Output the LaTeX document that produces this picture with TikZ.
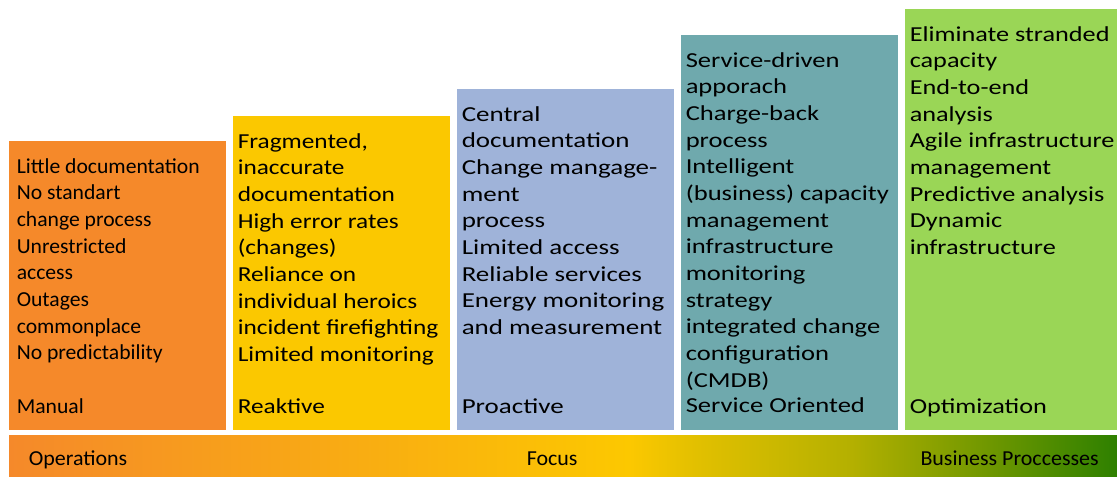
\documentclass[tikz,border=0pt]{standalone}
\usepackage{fontspec}
\setmainfont{Carlito}
\definecolor{manualorange}{RGB}{245,137,42}
\definecolor{reaktivyellow}{RGB}{251,200,0}
\definecolor{proactiveblue}{RGB}{159,179,217}
\definecolor{serviceteal}{RGB}{111,169,173}
\definecolor{optimgreen}{RGB}{154,214,86}
\definecolor{focusyellow}{RGB}{252,200,0}
\definecolor{focusgold}{RGB}{226,192,0}
\definecolor{focusolive}{RGB}{180,176,0}
\definecolor{focusgreen}{RGB}{46,128,0}
\pgfdeclarehorizontalshading{focusbar}{100bp}{color(0bp)=(manualorange); color(25bp)=(manualorange); color(53bp)=(focusyellow); color(56bp)=(focusgold); color(63bp)=(focusolive); color(75bp)=(focusgreen); color(100bp)=(focusgreen)}
\tikzset{
	items/.style={anchor=north west, inner sep=0pt, align=left, font=\fontsize{16}{20}\selectfont\addfontfeatures{FakeStretch=#1}, execute at begin node=\strut},
	items/.default=1,
	stagename/.style={anchor=base west, inner sep=0pt, font=\fontsize{16}{20}\selectfont\addfontfeatures{FakeStretch=#1}},
	stagename/.default=1,
	axisname/.style={inner sep=0pt, font=\fontsize{16}{20}\selectfont\addfontfeatures{FakeStretch=1.03}}
}

\begin{document}
\begin{tikzpicture}[x=0.75pt,y=-0.75pt]
	\useasboundingbox (0,0) rectangle (1117,477);
	\fill [manualorange] (9,141) rectangle (226,430);
	\fill [reaktivyellow] (233,116) rectangle (450,430);
	\fill [proactiveblue] (457,89) rectangle (674,430);
	\fill [serviceteal] (681,35) rectangle (898,430);
	\fill [optimgreen] (905,9) rectangle (1117,430);
	\shade [shading=focusbar] (9,435) rectangle (1117,477);

	\node[items=1.015] (t1) at (16.5,158) {Little documentation\\No standart\\change process\\Unrestricted\\access\\Outages\\commonplace\\No predictability};
	\node[items=1.185] (t2) at (237.5,133) {Fragmented,\\inaccurate\\documentation\\High error rates\\(changes)\\Reliance on\\individual heroics\\incident firefighting\\Limited monitoring};
	\node[items=1.265] (t3) at (461.5,106) {Central\\documentation\\Change mangage-\\ment\\process\\Limited access\\Reliable services\\Energy monitoring\\and measurement};
	\node[items=1.245] (t4) at (685.5,52) {Service-driven\\apporach\\Charge-back\\process\\Intelligent\\(business) capacity\\management\\infrastructure\\monitoring\\strategy\\integrated change\\configuration\\(CMDB)};
	\node[items=1.23] (t5) at (909.5,26) {Eliminate stranded\\capacity\\End-to-end\\analysis\\Agile infrastructure\\management\\Predictive analysis\\Dynamic\\infrastructure};

	\node[stagename=1.015] (l1) at (16.5,413) {Manual};
	\node[stagename=1.185] (l2) at (237.5,413) {Reaktive};
	\node[stagename=1.265] (l3) at (461.5,413) {Proactive};
	\node[stagename=1.245] (l4) at (685.5,412.5) {Service Oriented};
	\node[stagename=1.23] (l5) at (909.5,413) {Optimization};

	\node[axisname, anchor=base west] (b1) at (28.5,465.5) {Operations};
	\node[axisname, anchor=base west] (b2) at (526.5,465.5) {Focus};
	\node[axisname, anchor=base east] (b3) at (1099,465.5) {Business Proccesses};
\end{tikzpicture}
\end{document}
